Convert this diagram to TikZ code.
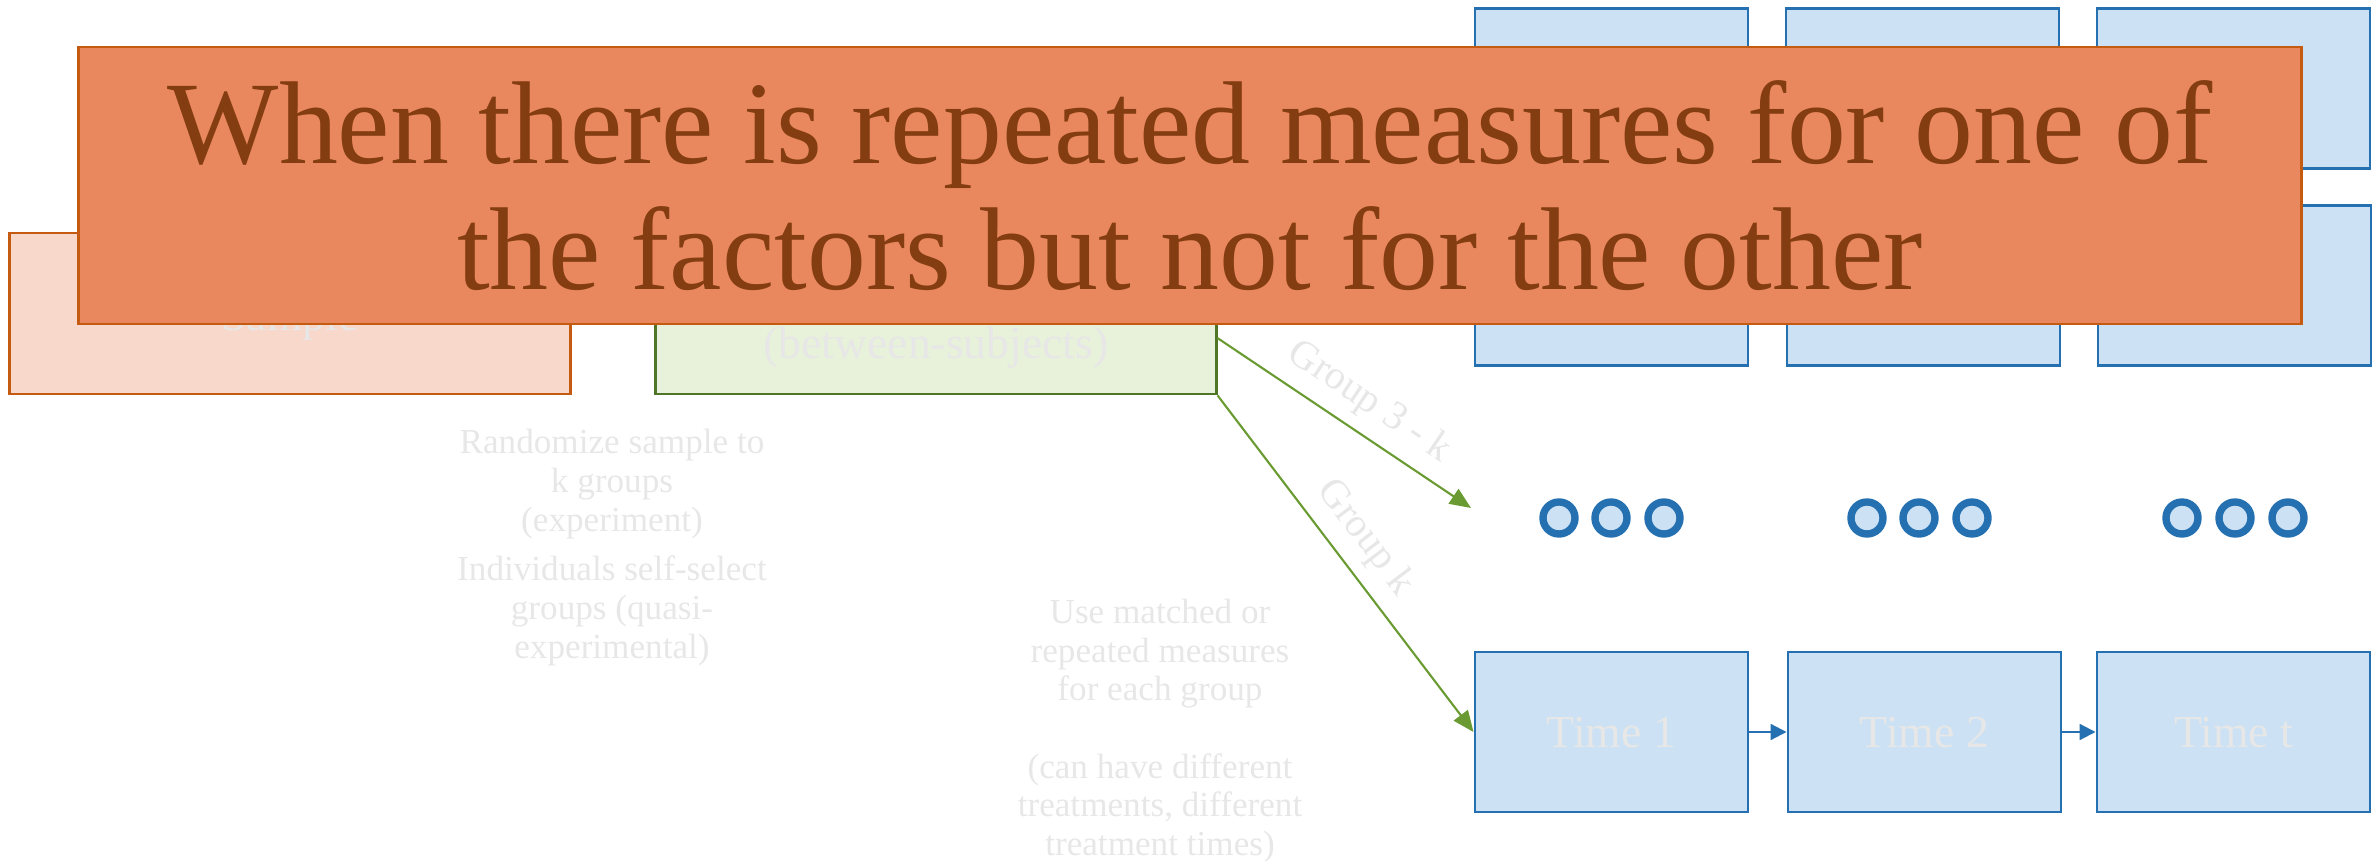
\documentclass[tikz,border=0pt]{standalone}
\usepackage{fontspec}
\setmainfont{Liberation Serif}
\usepackage{tikz}
\usetikzlibrary{arrows.meta}
\usepackage{xcolor}

\definecolor{titlefill}{RGB}{233,136,94}
\definecolor{titleline}{RGB}{197,90,17}
\definecolor{titletext}{RGB}{132,60,17}
\definecolor{samplefill}{RGB}{248,216,203}
\definecolor{factorfill}{RGB}{232,242,218}
\definecolor{factorline}{RGB}{79,118,40}
\definecolor{timefill}{RGB}{204,226,244}
\definecolor{timeline}{RGB}{36,112,176}
\definecolor{arrowgreen}{RGB}{106,154,50}
\definecolor{faintgray}{RGB}{231,231,231}

\begin{document}
\begin{tikzpicture}[
    x=0.01cm, y=-0.01cm,
    titlebox/.style={
        draw=titleline,
        line width=0.8pt,
        fill=titlefill,
        text=titletext,
        minimum width=22.22cm,
        minimum height=2.77cm,
        align=center,
        font=\fontsize{33.5pt}{36pt}\selectfont
    },
    samplebox/.style={
        draw=titleline,
        line width=0.8pt,
        fill=samplefill,
        minimum width=5.6cm,
        minimum height=1.61cm
    },
    factorbox/.style={
        draw=factorline,
        line width=0.8pt,
        fill=factorfill,
        minimum width=5.6cm,
        minimum height=1.61cm
    },
    timebox/.style={
        draw=timeline,
        line width=0.8pt,
        fill=timefill,
        text=faintgray,
        text height=0.9em,
        minimum width=2.73cm,
        minimum height=1.6cm,
        font=\fontsize{13pt}{15.6pt}\selectfont
    },
    boxtext/.style={text=faintgray, font=\fontsize{13pt}{15.6pt}\selectfont},
    note/.style={text=faintgray, align=center, font=\fontsize{10pt}{11pt}\selectfont},
    ring/.style={circle, draw=timeline, line width=2.1pt, fill=timefill, minimum size=0.32cm, inner sep=0pt},
    grouparrow/.style={->, draw=arrowgreen, fill=arrowgreen, line width=0.6pt},
    timearrow/.style={-{Triangle[length=4.5pt,width=4.5pt]}, draw=timeline, line width=0.6pt},
    grouplabel/.style={above, sloped, text=faintgray, font=\fontsize{11.5pt}{13pt}\selectfont},
    >={Triangle[length=6pt,width=5pt]}
]
\useasboundingbox (0,0) rectangle (2377,861);

\node[samplebox] (sample) at (290,313.5) {};
\node[boxtext] (sampletxt) at (290,320) {Sample};
\node[factorbox] (between) at (936,313.5) {};
\node[boxtext] (betweentxt) at (936,348) {(between-subjects)};

\node[note] (randomize) at (612,484) {Randomize sample to\\k groups\\(experiment)};
\node[note] (selfselect) at (612,611) {Individuals self-select\\groups (quasi-\\experimental)};
\node[note] (matched) at (1160,731) {Use matched or\\repeated measures\\for each group\\[11pt](can have different\\treatments, different\\treatment times)};

\node[timebox] (grpa1) at (1611.5,88.5) {};
\node[timebox] (grpa2) at (1922.5,88.5) {};
\node[timebox] (grpa3) at (2233.5,88.5) {};
\node[timebox] (grpb1) at (1611.5,285.5) {};
\node[timebox] (grpb2) at (1923.5,285.5) {};
\node[timebox] (grpb3) at (2234.5,285.5) {};
\node[timebox] (grpk1) at (1611.5,732) {Time 1};
\node[timebox] (grpk2) at (1924.5,732) {Time 2};
\node[timebox] (grpk3) at (2233.5,732) {Time t};

\node[ring] (dot1a) at (1559,518) {};
\node[ring] (dot1b) at (1611,518) {};
\node[ring] (dot1c) at (1664,518) {};
\node[ring] (dot2a) at (1867,518) {};
\node[ring] (dot2b) at (1919,518) {};
\node[ring] (dot2c) at (1972,518) {};
\node[ring] (dot3a) at (2182,518) {};
\node[ring] (dot3b) at (2235,518) {};
\node[ring] (dot3c) at (2288,518) {};

\coordinate (dotsend) at (1471,508);
\draw[grouparrow] (between.-5) -- node[grouplabel, pos=0.53] {Group 3 - k} (dotsend);
\draw[grouparrow] (between.south east) -- node[grouplabel, pos=0.48] {Group k} (grpk1.west);
\draw[timearrow] (grpk1) -- (grpk2);
\draw[timearrow] (grpk2) -- (grpk3);

\node[titlebox] (title) at (1190,185.5) {When there is repeated measures for one of\\the factors but not for the other};
\end{tikzpicture}
\end{document}
